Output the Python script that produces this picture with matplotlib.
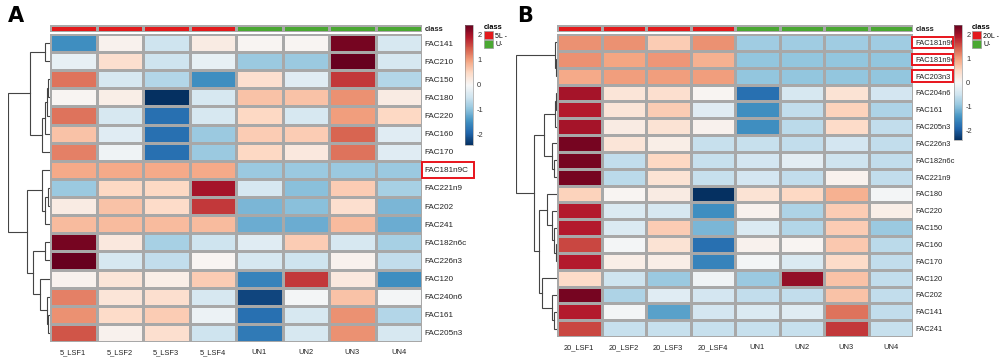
import numpy as np
import matplotlib
matplotlib.use("Agg")
import matplotlib.pyplot as plt
from matplotlib.colors import ListedColormap, Normalize
from matplotlib.patches import Patch, Rectangle
import matplotlib.cm as cm

# ---------------- data ----------------
cols_a = ["5_LSF1", "5_LSF2", "5_LSF3", "5_LSF4", "UN1", "UN2", "UN3", "UN4"]
cols_b = ["20_LSF1", "20_LSF2", "20_LSF3", "20_LSF4", "UN1", "UN2", "UN3", "UN4"]
class_groups = [0, 0, 0, 0, 1, 1, 1, 1]
class_labels_a = ["5L -", "U-"]
class_labels_b = ["20L -", "U-"]

rows_a = ["FAC141", "FAC210", "FAC150", "FAC180", "FAC220", "FAC160", "FAC170",
          "FAC181n9C", "FAC221n9", "FAC202", "FAC241", "FAC182n6c", "FAC226n3",
          "FAC120", "FAC240n6", "FAC161", "FAC205n3"]
vals_a = [
    [-1.5, 0.1, -0.5, 0.2, 0.05, 0.05, 2.3, -0.4],
    [-0.2, 0.4, -0.5, -0.2, -0.9, -0.9, 2.4, -0.4],
    [1.3, -0.4, -0.7, -1.5, 0.4, -0.3, 1.7, -0.7],
    [0.05, 0.15, -2.4, -0.4, 0.7, 0.7, 1.1, 0.2],
    [1.3, -0.4, -1.8, -0.4, 0.5, -0.4, 1.0, 0.5],
    [0.7, -0.3, -1.8, -0.9, 0.6, 0.6, 1.4, -0.3],
    [1.2, -0.1, -1.8, -0.9, 0.5, 0.25, 1.3, -0.3],
    [0.9, 0.9, 0.9, 0.9, -0.9, -0.9, -0.9, -0.9],
    [-0.9, 0.5, 0.5, 2.0, -0.4, -1.0, 0.6, -0.8],
    [0.2, 0.7, 0.45, 1.7, -1.1, -1.0, 0.4, -1.1],
    [0.75, 0.75, 0.75, 0.75, -1.2, -1.2, 0.75, -1.2],
    [2.3, 0.25, -0.8, -0.5, -0.3, 0.6, -0.4, -0.8],
    [2.4, -0.4, -0.6, 0.05, -0.4, -0.5, 0.1, -0.6],
    [0.1, 0.3, 0.15, 0.6, -1.6, 1.7, 0.25, -1.5],
    [1.2, 0.3, 0.4, -0.4, -2.2, -0.05, 0.7, -0.05],
    [1.1, 0.45, 0.6, -0.15, -1.8, -0.4, 1.1, -0.7],
    [1.5, 0.1, 0.4, -0.5, -1.7, -0.4, 1.1, -0.4],
]

rows_b = ["FAC181n9t", "FAC181n9c", "FAC203n3", "FAC204n6", "FAC161", "FAC205n3",
          "FAC226n3", "FAC182n6c", "FAC221n9", "FAC180", "FAC220", "FAC150",
          "FAC160", "FAC170", "FAC120", "FAC202", "FAC141", "FAC241"]
vals_b = [
    [1.1, 1.1, 0.6, 1.1, -0.85, -0.85, -0.85, -0.85],
    [1.1, 0.95, 1.05, 0.85, -0.95, -0.95, -0.95, -0.95],
    [0.9, 1.0, 1.0, 1.0, -0.95, -0.95, -0.95, -0.95],
    [2.0, 0.3, 0.4, 0.05, -1.8, -0.4, 0.35, -0.45],
    [1.9, 0.3, 0.6, -0.3, -1.5, -0.6, 0.55, -0.75],
    [2.0, 0.2, 0.35, 0.1, -1.5, -0.65, 0.45, -0.6],
    [2.3, 0.3, 0.15, -0.55, -0.55, -0.6, -0.45, -0.6],
    [2.3, -0.6, 0.5, -0.55, -0.45, -0.25, -0.5, -0.6],
    [2.3, -0.65, 0.35, -0.55, -0.45, -0.6, 0.1, -0.6],
    [0.55, 0.05, 0.2, -2.4, 0.35, 0.5, 0.85, -0.05],
    [1.9, -0.35, -0.4, -1.5, 0.1, -0.75, 0.6, 0.15],
    [1.9, -0.35, 0.6, -1.1, -0.35, -0.7, 0.6, -0.9],
    [1.6, -0.05, 0.35, -1.8, 0.1, 0.05, 0.65, -0.65],
    [1.9, 0.15, 0.15, -1.6, -0.05, -0.35, 0.45, -0.6],
    [0.45, -0.5, -0.9, -0.1, -0.9, 2.1, 0.7, -0.6],
    [2.3, -0.75, -0.3, -0.45, -0.6, -0.6, 0.7, -0.6],
    [1.9, -0.05, -1.3, -0.45, -0.35, -0.3, 1.3, -0.6],
    [1.6, -0.55, -0.55, -0.55, -0.55, -0.55, 1.7, -0.55],
]

# dendrogram merges: (left, right, height)
tree_a = (((0, 1, 5), ((((2, 3, 1.7), 4, 3.3), 5, 5), 6, 8.3), 20),
          ((7, ((8, 9, 2), 10, 5), 8.3),
           ((11, 12, 5), (13, (14, (15, 16, 1.7), 3.3), 10), 16.7), 23), 41.7)
tree_b = ((0, (1, 2, 1.0), 1.7),
          ((((3, 4, 1.2), 5, 1.7), (6, (7, 8, 3.3), 5), 13.3),
           ((9, (10, (11, (12, 13, 1.5), 3.3), 5), 10),
            (14, (15, (16, 17, 3.3), 5), 15), 18.3), 23.3), 40.7)

highlight_a = ["FAC181n9C"]
highlight_b = ["FAC181n9t", "FAC181n9c", "FAC203n3"]

# ---------------- style ----------------
W, H = 1000, 363
plt.rcParams['font.family'] = ['Liberation Sans', 'DejaVu Sans']
plt.rcParams['axes.unicode_minus'] = False
fig = plt.figure(figsize=(W / 100, H / 100), dpi=100)
cmap = plt.get_cmap('RdBu_r')
norm = Normalize(vmin=-2.4, vmax=2.4)
class_cmap = ListedColormap(['#e31a1c', '#4aa832'])
grid_col = '#a8a8a8'
txt_col = '#222222'


def px_axes(x0, y0, x1, y1):
    return fig.add_axes([x0 / W, 1 - y1 / H, (x1 - x0) / W, (y1 - y0) / H])


def draw_tree(ax, node):
    if isinstance(node, int):
        return node + 0.5, 0.0
    l, r, h = node
    yl, hl = draw_tree(ax, l)
    yr, hr = draw_tree(ax, r)
    ax.plot([hl, h, h, hr], [yl, yl, yr, yr], color='#444444', lw=0.8,
            solid_joinstyle='miter')
    return (yl + yr) / 2, h


def panel(letter, letter_x, hm, dend_x0, rows, cols, vals, tree, highlight,
          box_x, box_hfrac, cbar_box, legend_xy, class_labels, row_fs):
    x0, y0, x1, y1 = hm
    data = np.array(vals)
    nr, nc = data.shape
    rh = (y1 - y0) / nr
    # heatmap
    ax = px_axes(x0, y0, x1, y1)
    ax.set_zorder(3)
    ax.pcolormesh(data, cmap=cmap, norm=norm, edgecolors=grid_col, linewidth=0.9)
    ax.set_xlim(0, nc)
    ax.set_ylim(nr, 0)
    for s in ax.spines.values():
        s.set_visible(False)
    ax.yaxis.tick_right()
    ax.set_yticks(np.arange(nr) + 0.5)
    ax.set_yticklabels(rows, fontsize=row_fs, color=txt_col)
    ax.set_xticks(np.arange(nc) + 0.5)
    ax.set_xticklabels(cols, fontsize=5.4, color=txt_col)
    ax.tick_params(length=0, pad=2)
    ax.tick_params(axis='x', pad=5)
    # highlight boxes around selected row labels
    bx_l, bx_r = box_x
    for i, name in enumerate(rows):
        if name in highlight:
            cy = y0 + rh * (i + 0.5)
            hh = rh * box_hfrac
            fig.add_artist(Rectangle((bx_l / W, 1 - (cy + hh / 2) / H),
                                     (bx_r - bx_l) / W, hh / H,
                                     transform=fig.transFigure, fill=False,
                                     ec='#e8141c', lw=1.4, zorder=10))
    # class bar
    cax = px_axes(x0, 25, x1, 32)
    cax.pcolormesh(np.array([class_groups]), cmap=class_cmap, vmin=0, vmax=1,
                   edgecolors=grid_col, linewidth=0.9)
    cax.set_xlim(0, nc)
    cax.set_ylim(1, 0)
    cax.set_xticks([])
    cax.set_yticks([])
    for s in cax.spines.values():
        s.set_visible(False)
    cax.text(nc + 0.06, 0.6, 'class', fontsize=5.4, fontweight='bold',
             va='center', ha='left', color=txt_col)
    # dendrogram
    dax = px_axes(dend_x0, y0, x0, y1)
    draw_tree(dax, tree)
    dax.set_ylim(nr, 0)
    dax.set_xlim(tree[2] + 0.3, 0)
    dax.axis('off')
    # colorbar
    bx0, by0, bx1, by1 = cbar_box
    bax = px_axes(bx0, by0, bx1, by1)
    cb = fig.colorbar(cm.ScalarMappable(norm=norm, cmap=cmap), cax=bax,
                      ticks=[-2, -1, 0, 1, 2])
    cb.ax.tick_params(labelsize=5.4, length=0, pad=3, colors='#333333')
    cb.outline.set_linewidth(0.4)
    cb.outline.set_edgecolor('#888888')
    # legend
    lx, ly = legend_xy
    handles = [Patch(facecolor=class_cmap(i), edgecolor='#999999', lw=0.5)
               for i in range(2)]
    leg = fig.legend(handles, class_labels, title='class', loc='upper left',
                     bbox_to_anchor=(lx / W, 1 - ly / H), frameon=False,
                     fontsize=5, handlelength=1.3, handleheight=1.4,
                     handletextpad=0.3, labelspacing=0.05, borderpad=0,
                     borderaxespad=0,
                     title_fontproperties={'weight': 'bold', 'size': 5.4},
                     alignment='left')
    leg.set_zorder(1)
    fig.text(letter_x / W, 1 - 16 / H, letter, fontsize=15, fontweight='bold',
             va='center', ha='left', family='DejaVu Sans')


panel('A', 8, (50, 34, 422, 342), 8, rows_a, cols_a, vals_a, tree_a, highlight_a,
      (422, 474), 0.92, (465, 25, 473, 145), (484, 24), class_labels_a, 5.9)
panel('B', 517, (557, 34, 913, 337), 516, rows_b, cols_b, vals_b, tree_b, highlight_b,
      (912, 953), 0.68, (954, 25, 962, 140), (972, 24), class_labels_b, 5.4)

fig.savefig('out.png', dpi=100)
